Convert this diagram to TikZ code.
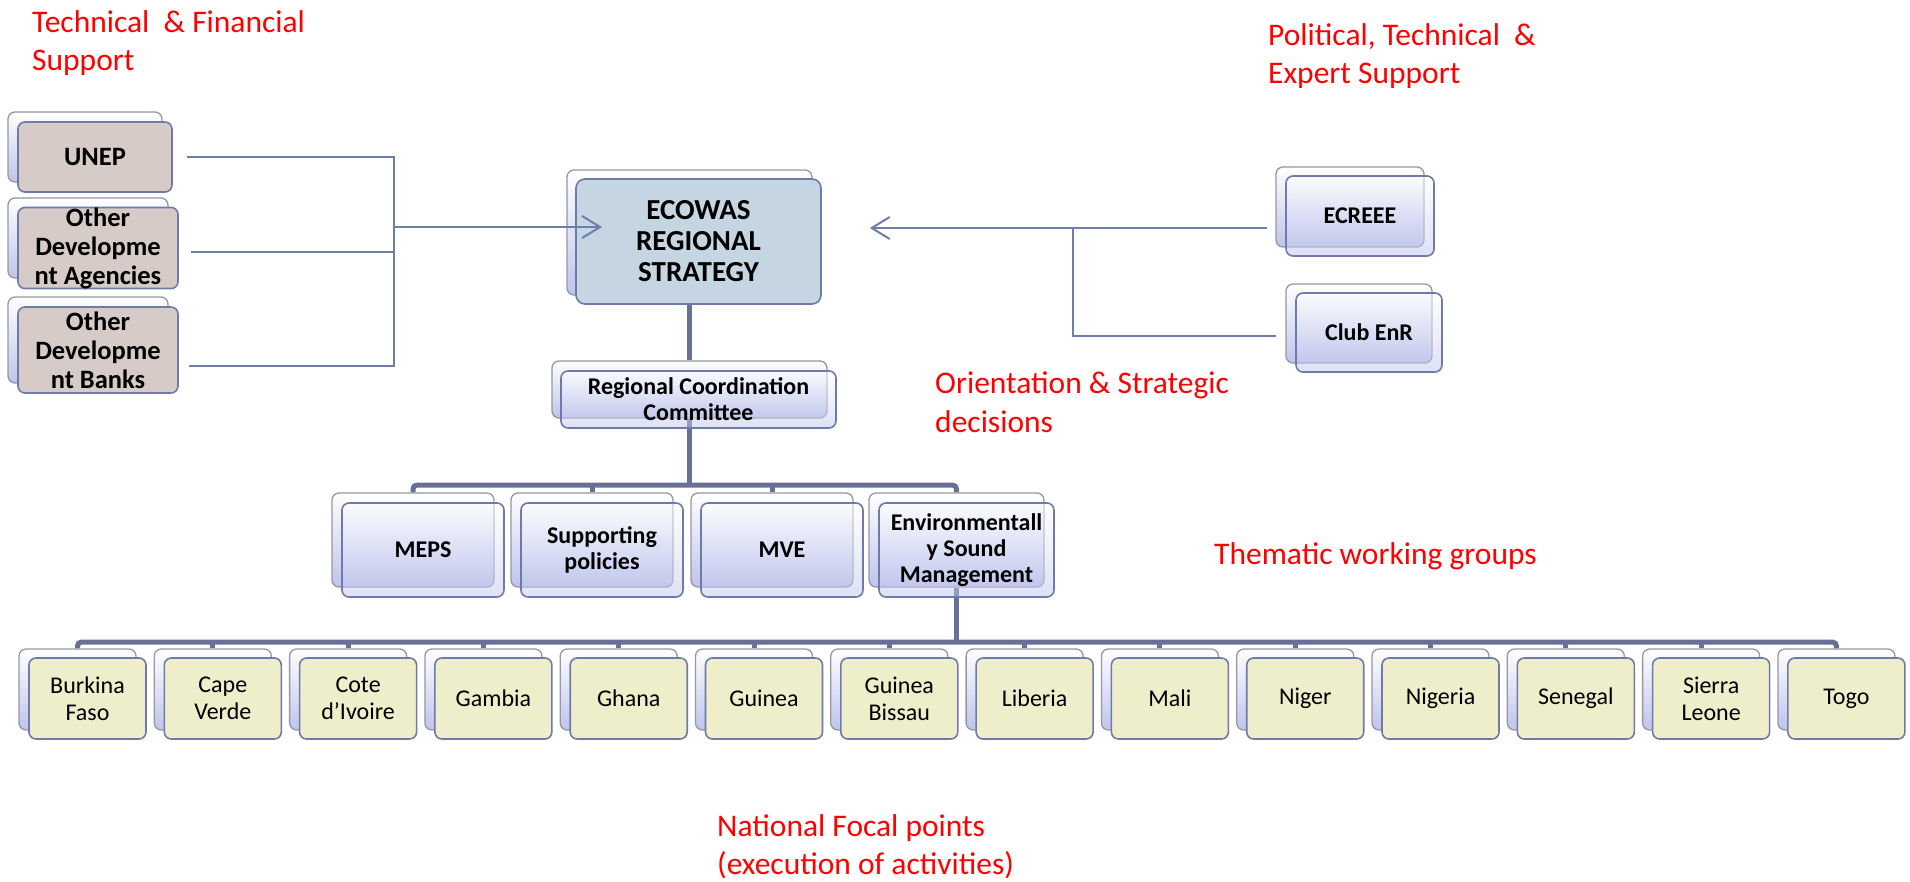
\documentclass[tikz,border=0pt]{standalone}
\usepackage{fontspec}
\setmainfont{Carlito}
\usepackage{tikz}
\usetikzlibrary{positioning,arrows.meta,calc,backgrounds}

\definecolor{linkblue}{RGB}{112,124,172}
\definecolor{trunkblue}{RGB}{104,112,152}
\definecolor{edgeblue}{RGB}{112,122,170}
\definecolor{edgegray}{RGB}{150,150,164}
\definecolor{lilac}{RGB}{190,196,236}
\definecolor{donorfill}{RGB}{214,203,199}
\definecolor{hubfill}{RGB}{197,214,226}
\definecolor{countryfill}{RGB}{238,238,203}
\definecolor{notered}{RGB}{255,0,0}

\tikzset{
  underbox/.style 2 args={draw=edgegray, line width=1.3pt, rounded corners=7pt,
    top color=white, bottom color=lilac, minimum width=#1pt, minimum height=#2pt, inner sep=0pt},
  donorbox/.style 2 args={draw=edgeblue, line width=1.6pt, rounded corners=7pt, fill=donorfill,
    minimum width=#1pt, minimum height=#2pt, inner sep=0pt, align=center,
    font=\fontsize{26.5}{29}\selectfont\bfseries},
  hubbox/.style 2 args={draw=edgeblue, line width=1.6pt, rounded corners=9pt, fill=hubfill,
    minimum width=#1pt, minimum height=#2pt, inner sep=0pt, align=center,
    font=\fontsize{29}{31}\selectfont\bfseries},
  glassbox/.style 2 args={draw=edgeblue, line width=1.6pt, rounded corners=7pt,
    top color=white, bottom color=lilac, fill opacity=0.5, text opacity=1,
    minimum width=#1pt, minimum height=#2pt, inner sep=0pt, align=center,
    font=\fontsize{24}{26}\selectfont\bfseries},
  countrybox/.style={draw=edgeblue, line width=1.6pt, rounded corners=7pt, fill=countryfill,
    minimum width=117pt, minimum height=81pt, inner sep=0pt, align=center,
    font=\fontsize{24}{27}\selectfont},
  link/.style={draw=linkblue, line width=2pt},
  trunk/.style={draw=trunkblue, line width=5pt},
  note/.style={text=notered, font=\fontsize{31.5}{38.5}\selectfont, align=left,
    anchor=north west, inner sep=0pt},
}

\begin{document}
\begin{tikzpicture}[x=1pt,y=-1pt]
  \useasboundingbox (0,0) rectangle (1910,881);

  % donors
  \node[underbox={154}{70}] (unep-b) at (85,147) {};
  \node[donorbox={154}{70}] (unep) at ([shift={(10,10)}]unep-b.center) {UNEP};
  \node[underbox={160}{80}] (agen-b) at (88,238) {};
  \node[donorbox={160}{80}] (agen) at ([shift={(10,10)}]agen-b.center) {Other\\Developme\\nt Agencies};
  \node[underbox={160}{86}] (bank-b) at (88,340) {};
  \node[donorbox={160}{86}] (bank) at ([shift={(10,10)}]bank-b.center) {Other\\Developme\\nt Banks};

  % strategy and committee
  \node[underbox={245}{125}] (ecowas-b) at (689.5,232.5) {};
  \node[hubbox={245}{125}] (ecowas) at ([shift={(9,9)}]ecowas-b.center) {ECOWAS\\REGIONAL\\STRATEGY};
  \node[underbox={275}{57}] (rcc-b) at (689.5,389.5) {};
  \node[glassbox={275}{57}] (rcc) at ([shift={(9,10)}]rcc-b.center) {Regional Coordination\\Committee};

  % political support
  \node[underbox={148}{80}] (ecreee-b) at (1350,207) {};
  \node[glassbox={148}{80}] (ecreee) at ([shift={(10,9)}]ecreee-b.center) {ECREEE};
  \node[underbox={146}{79}] (club-b) at (1359,323.5) {};
  \node[glassbox={146}{79}] (club) at ([shift={(10,9)}]club-b.center) {Club EnR};

  % thematic groups
  \node[underbox={162}{94}] (meps-b) at (413,540) {};
  \node[glassbox={162}{94}] (meps) at ([shift={(10,10)}]meps-b.center) {MEPS};
  \node[underbox={162}{94}] (supp-b) at (592,540) {};
  \node[glassbox={162}{94}] (supp) at ([shift={(10,10)}]supp-b.center) {Supporting\\policies};
  \node[underbox={162}{94}] (mve-b) at (772,540) {};
  \node[glassbox={162}{94}] (mve) at ([shift={(10,10)}]mve-b.center) {MVE};
  \node[underbox={175}{94}] (env-b) at (956.5,540) {};
  \node[glassbox={175}{94}] (env) at ([shift={(10,10)}]env-b.center) {Environmentall\\y Sound\\Management};

  % national focal points
  \node[underbox={117}{81}] (bf-b) at (77.5,689.5) {};
  \node[countrybox] (bf) at ([shift={(10,9)}]bf-b.center) {Burkina\\Faso};
  \node[underbox={117}{81}] (cv-b) at (212.8,689.5) {};
  \node[countrybox] (cv) at ([shift={(10,9)}]cv-b.center) {Cape\\Verde};
  \node[underbox={117}{81}] (ci-b) at (348.1,689.5) {};
  \node[countrybox] (ci) at ([shift={(10,9)}]ci-b.center) {Cote\\d’Ivoire};
  \node[underbox={117}{81}] (gm-b) at (483.4,689.5) {};
  \node[countrybox] (gm) at ([shift={(10,9)}]gm-b.center) {Gambia};
  \node[underbox={117}{81}] (gh-b) at (618.7,689.5) {};
  \node[countrybox] (gh) at ([shift={(10,9)}]gh-b.center) {Ghana};
  \node[underbox={117}{81}] (gn-b) at (754.0,689.5) {};
  \node[countrybox] (gn) at ([shift={(10,9)}]gn-b.center) {Guinea};
  \node[underbox={117}{81}] (gw-b) at (889.3,689.5) {};
  \node[countrybox] (gw) at ([shift={(10,9)}]gw-b.center) {Guinea\\Bissau};
  \node[underbox={117}{81}] (lr-b) at (1024.6,689.5) {};
  \node[countrybox] (lr) at ([shift={(10,9)}]lr-b.center) {Liberia};
  \node[underbox={117}{81}] (ml-b) at (1159.9,689.5) {};
  \node[countrybox] (ml) at ([shift={(10,9)}]ml-b.center) {Mali};
  \node[underbox={117}{81}] (ne-b) at (1295.2,689.5) {};
  \node[countrybox] (ne) at ([shift={(10,9)}]ne-b.center) {Niger};
  \node[underbox={117}{81}] (ng-b) at (1430.5,689.5) {};
  \node[countrybox] (ng) at ([shift={(10,9)}]ng-b.center) {Nigeria};
  \node[underbox={117}{81}] (sn-b) at (1565.8,689.5) {};
  \node[countrybox] (sn) at ([shift={(10,9)}]sn-b.center) {Senegal};
  \node[underbox={117}{81}] (sl-b) at (1701.1,689.5) {};
  \node[countrybox] (sl) at ([shift={(10,9)}]sl-b.center) {Sierra\\Leone};
  \node[underbox={117}{81}] (tg-b) at (1836.4,689.5) {};
  \node[countrybox] (tg) at ([shift={(10,9)}]tg-b.center) {Togo};

  % hierarchy lines
  \coordinate (tbar) at (689.5,485);
  \coordinate (cbar) at (956.5,642);
  \begin{scope}[on background layer]
    \draw[trunk] (ecowas-b.south) -- (rcc-b.north);
    \draw[trunk] (rcc-b.south) -- (tbar);
    \draw[trunk, rounded corners=4pt] (meps-b.north) |- (tbar) -| (env-b.north);
    \draw[trunk] (supp-b.north) -- (supp-b.north |- tbar) (mve-b.north) -- (mve-b.north |- tbar);
    \draw[trunk] (env-b.south) -- (cbar);
    \draw[trunk, rounded corners=4pt] (bf-b.north) |- (cbar) -| (tg-b.north);
    \draw[trunk] (cv-b.north) -- (cv-b.north |- cbar) (ci-b.north) -- (ci-b.north |- cbar)
      (gm-b.north) -- (gm-b.north |- cbar) (gh-b.north) -- (gh-b.north |- cbar)
      (gn-b.north) -- (gn-b.north |- cbar) (gw-b.north) -- (gw-b.north |- cbar)
      (lr-b.north) -- (lr-b.north |- cbar) (ml-b.north) -- (ml-b.north |- cbar)
      (ne-b.north) -- (ne-b.north |- cbar) (ng-b.north) -- (ng-b.north |- cbar)
      (sn-b.north) -- (sn-b.north |- cbar) (sl-b.north) -- (sl-b.north |- cbar);
  \end{scope}

  % support lines
  \coordinate (fund) at (394,227);
  \coordinate (pol) at (1073,228);
  \draw[link] ([xshift=14pt]unep.east) -| (fund);
  \draw[link] ([shift={(12,4)}]agen.east) -| (fund);
  \draw[link] ([shift={(10,16)}]bank.east) -| (fund);
  \draw[link, -{Straight Barb[length=18pt,width=22pt]}] (fund) -- ++(208,0);
  \draw[link, -{Straight Barb[length=18pt,width=22pt]}] ($(ecreee-b.west)+(-8,21)$) -- ($(ecowas.east |- pol)+(48,0)$);
  \draw[link] ($(club-b.west)+(-9,12)$) -| (pol);

  % red notes
  \node[note] (tfs) at (32,10) {Technical\ \ \& Financial\\Support};
  \node[note] (pts) at (1268,23) {Political, Technical\ \ \&\\Expert Support};
  \node[note] (osd) at (935,372) {Orientation \& Strategic\\decisions};
  \node[note] (twg) at (1214,542) {Thematic working groups};
  \node[note] (nfp) at (717,814) {National Focal points\\(execution of activities)};
\end{tikzpicture}
\end{document}
